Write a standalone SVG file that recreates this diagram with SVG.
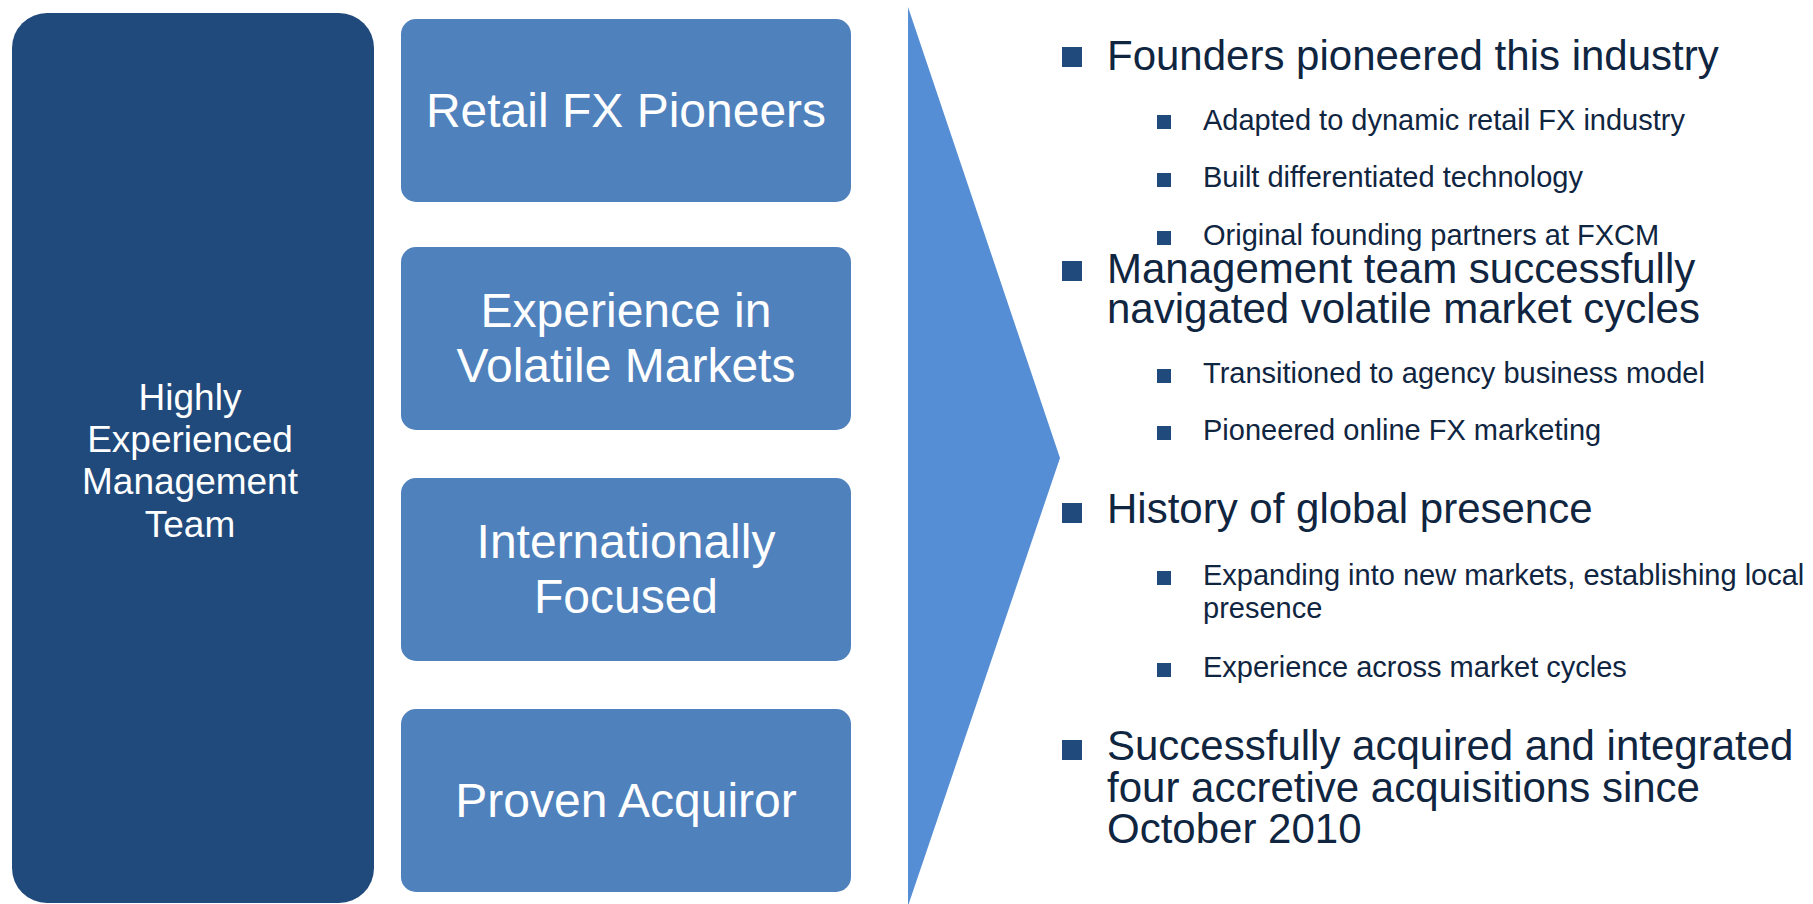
<svg xmlns="http://www.w3.org/2000/svg" width="1813" height="904" viewBox="0 0 1813 904">
<style>
.dark{fill:#214A7C}
.box{fill:#4F81BD}
.wt{fill:#FFFFFF;font-family:"Liberation Sans",Arial,sans-serif;text-anchor:middle}
.big{font-size:48px}
.mid{font-size:37px}
.l1{fill:#10253F;font-family:"Liberation Sans",Arial,sans-serif;font-size:42px}
.l2{fill:#10253F;font-family:"Liberation Sans",Arial,sans-serif;font-size:29px}
.b1{fill:#214A7C}
</style>
<rect width="1813" height="904" fill="#FFFFFF"/>
<g id="team">
<rect class="dark" x="12" y="13" width="362" height="890" rx="35" ry="35"/>
<text class="wt mid" x="190" y="410">Highly</text>
<text class="wt mid" x="190" y="452">Experienced</text>
<text class="wt mid" x="190" y="494">Management</text>
<text class="wt mid" x="190" y="537">Team</text>
</g>
<g id="retail">
<rect class="box" x="401" y="19" width="450" height="183" rx="15" ry="15"/>
<text class="wt big" x="626" y="127">Retail FX Pioneers</text>
</g>
<g id="volatile">
<rect class="box" x="401" y="247" width="450" height="183" rx="15" ry="15"/>
<text class="wt big" x="626" y="327">Experience in</text>
<text class="wt big" x="626" y="382">Volatile Markets</text>
</g>
<g id="international">
<rect class="box" x="401" y="478" width="450" height="183" rx="15" ry="15"/>
<text class="wt big" x="626" y="558">Internationally</text>
<text class="wt big" x="626" y="613">Focused</text>
</g>
<g id="acquiror">
<rect class="box" x="401" y="709" width="450" height="183" rx="15" ry="15"/>
<text class="wt big" x="626" y="817">Proven Acquiror</text>
</g>
<g id="chevron">
<polygon points="908,7 1060,458 908,906" fill="#558ED5"/>
</g>
<g id="bullets">
<rect class="b1" x="1062" y="47" width="20" height="20"/>
<text class="l1" x="1107" y="70">Founders pioneered this industry</text>
<rect class="b1" x="1157" y="115" width="14" height="14"/>
<text class="l2" x="1203" y="130">Adapted to dynamic retail FX industry</text>
<rect class="b1" x="1157" y="173" width="14" height="14"/>
<text class="l2" x="1203" y="187">Built differentiated technology</text>
<rect class="b1" x="1157" y="231" width="14" height="14"/>
<text class="l2" x="1203" y="245">Original founding partners at FXCM</text>
<rect class="b1" x="1062" y="261" width="20" height="20"/>
<text class="l1" x="1107" y="283">Management team successfully</text>
<text class="l1" x="1107" y="323">navigated volatile market cycles</text>
<rect class="b1" x="1157" y="369" width="14" height="14"/>
<text class="l2" x="1203" y="383">Transitioned to agency business model</text>
<rect class="b1" x="1157" y="426" width="14" height="14"/>
<text class="l2" x="1203" y="440">Pioneered online FX marketing</text>
<rect class="b1" x="1062" y="503" width="20" height="20"/>
<text class="l1" x="1107" y="523">History of global presence</text>
<rect class="b1" x="1157" y="571" width="14" height="14"/>
<text class="l2" x="1203" y="585">Expanding into new markets, establishing local</text>
<text class="l2" x="1203" y="618">presence</text>
<rect class="b1" x="1157" y="663" width="14" height="14"/>
<text class="l2" x="1203" y="677">Experience across market cycles</text>
<rect class="b1" x="1062" y="740" width="20" height="20"/>
<text class="l1" x="1107" y="760">Successfully acquired and integrated</text>
<text class="l1" x="1107" y="802">four accretive acquisitions since</text>
<text class="l1" x="1107" y="843">October 2010</text>
</g>
</svg>
